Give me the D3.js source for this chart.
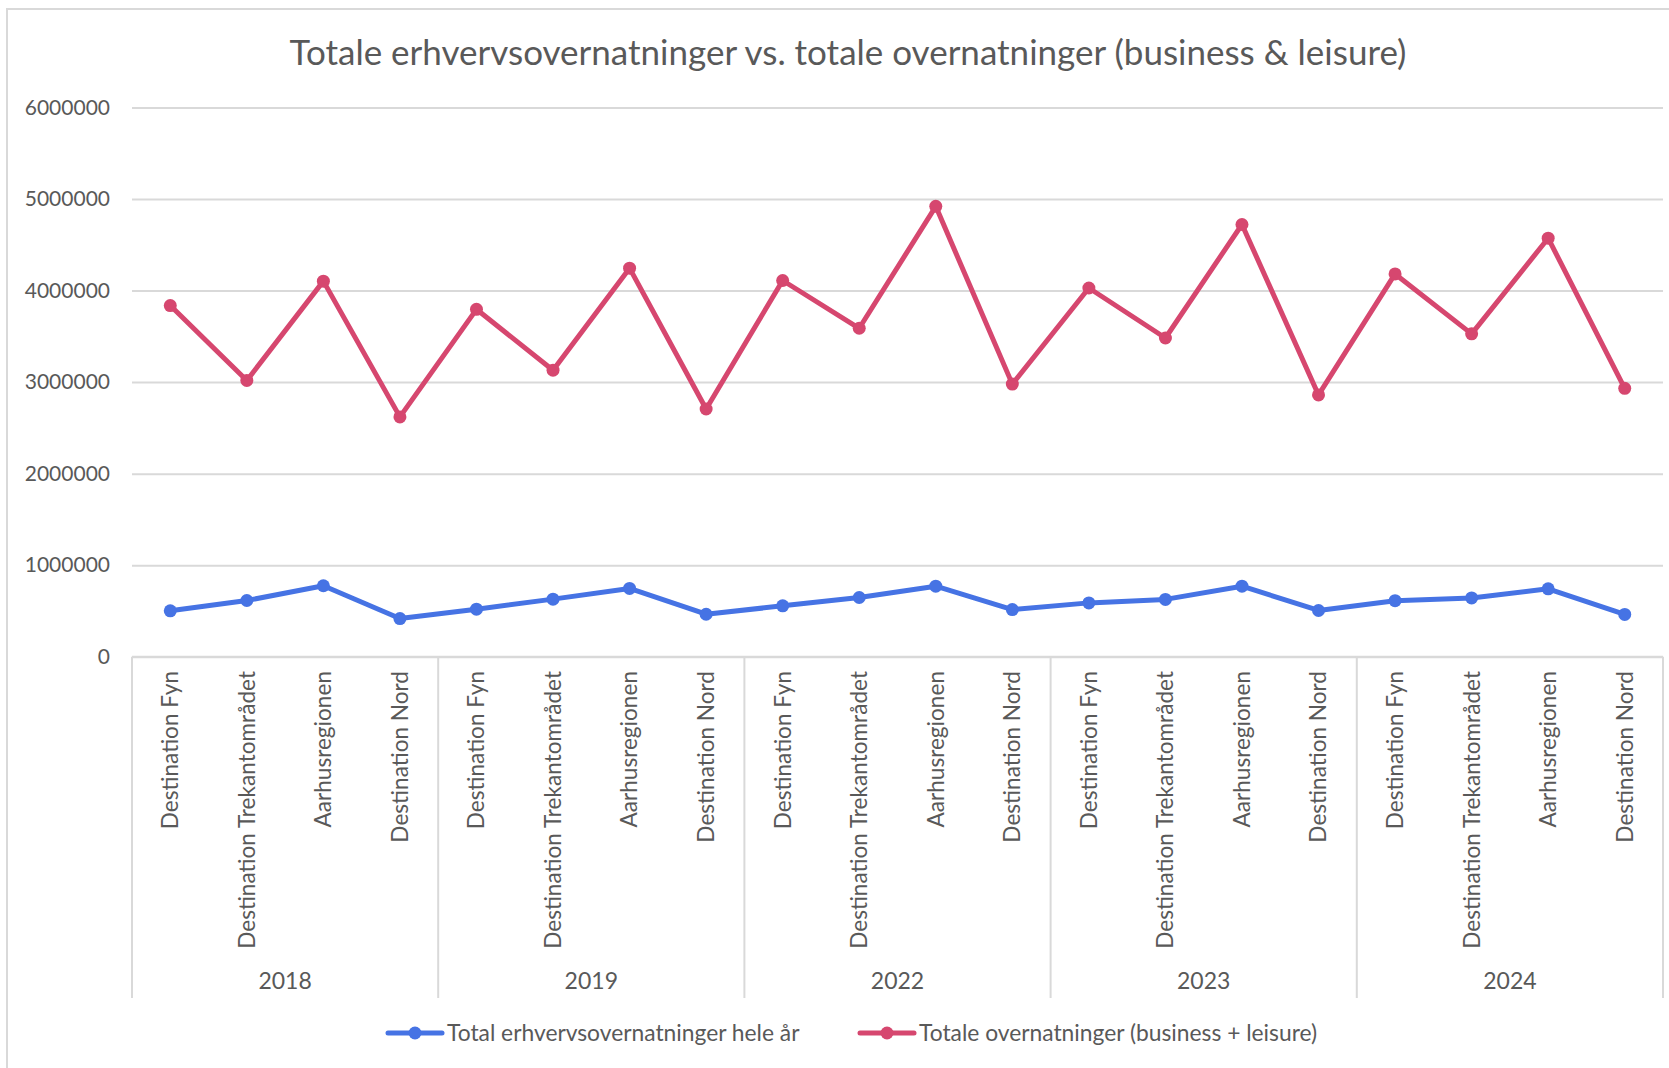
<!DOCTYPE html>
<html>
<head>
<meta charset="utf-8">
<script src="https://cdn.jsdelivr.net/npm/d3@7"></script>
<style>
  body { margin: 0; background: #fff; }
  text { font-family: Lato, "Open Sans", sans-serif; fill: #595959; }
</style>
</head>
<body>
<div id="chart"></div>
<script>
var width = 1669;
var height = 1068;

// data
var years = ["2018", "2019", "2022", "2023", "2024"];
var regions = ["Destination Fyn", "Destination Trekantområdet", "Aarhusregionen", "Destination Nord"];
var businessNights = [501000, 614000, 775000, 417000,
                      519000, 629000, 746000, 464000,
                      556000, 647000, 770000, 515000,
                      588000, 626000, 770000, 505000,
                      612000, 642000, 742000, 462000];
var totalNights = [3836000, 3018000, 4103000, 2620000,
                   3795000, 3130000, 4245000, 2706000,
                   4110000, 3588000, 4920000, 2978000,
                   4028000, 3482000, 4722000, 2860000,
                   4182000, 3527000, 4572000, 2932000];
var yTicks = [0, 1000000, 2000000, 3000000, 4000000, 5000000, 6000000];
var seriesNames = ["Total erhvervsovernatninger hele år", "Totale overnatninger (business + leisure)"];
var seriesColors = ["#4673E4", "#D6476F"];
var title = "Totale erhvervsovernatninger vs. totale overnatninger (business & leisure)";

var keys = [];
years.forEach(function(yr) {
    regions.forEach(function(r) { keys.push(yr + "|" + r); });
});

var plotLeft = 132, plotRight = 1663, plotTop = 107.5, plotBottom = 656.7;

var x = d3.scaleBand().domain(keys).range([plotLeft, plotRight]);
var y = d3.scaleLinear().domain([0, 6000000]).range([plotBottom, plotTop]);

var svg = d3.select("#chart").append("svg")
    .attr("width", width)
    .attr("height", height);

// chart frame (only top/left edge visible)
svg.append("path")
    .attr("d", "M7," + height + "V9H" + width)
    .attr("fill", "none")
    .attr("stroke", "#D9D9D9")
    .attr("stroke-width", 2);

svg.append("text")
    .attr("x", 848)
    .attr("y", 65)
    .attr("text-anchor", "middle")
    .style("font-size", "35px")
    .text(title);

// gridlines + y labels
var yAxis = d3.axisLeft(y).tickValues(yTicks).tickSize(-(plotRight - plotLeft)).tickFormat(d3.format("d"));
var gy = svg.append("g")
    .attr("transform", "translate(" + plotLeft + ",0)")
    .call(yAxis);
gy.select(".domain").remove();
gy.selectAll(".tick line").attr("stroke", "#D9D9D9").attr("stroke-width", 2);
gy.selectAll(".tick text")
    .attr("x", -22)
    .style("font-size", "21px")
    .style("font-family", "Lato, sans-serif")
    .attr("fill", "#595959");

// x axis line and year separators
svg.append("line")
    .attr("x1", plotLeft).attr("x2", plotRight)
    .attr("y1", y(0)).attr("y2", y(0))
    .attr("stroke", "#D9D9D9").attr("stroke-width", 2);

var sepPositions = years.map(function(yr) { return x(yr + "|" + regions[0]); });
sepPositions.push(plotRight);
svg.selectAll(".sep")
    .data(sepPositions)
    .enter().append("line")
    .attr("class", "sep")
    .attr("x1", function(d) { return d; })
    .attr("x2", function(d) { return d; })
    .attr("y1", y(0))
    .attr("y2", 998)
    .attr("stroke", "#D9D9D9")
    .attr("stroke-width", 2);

// category labels
svg.selectAll(".cat")
    .data(keys)
    .enter().append("text")
    .attr("class", "cat")
    .attr("transform", function(d) {
        return "translate(" + (x(d) + x.bandwidth() / 2) + ",671) rotate(-90)";
    })
    .attr("dy", "0.35em")
    .attr("text-anchor", "end")
    .style("font-size", "22.6px")
    .text(function(d) { return d.split("|")[1]; });

// year labels
svg.selectAll(".year")
    .data(years)
    .enter().append("text")
    .attr("class", "year")
    .attr("x", function(yr) {
        return (x(yr + "|" + regions[0]) + x(yr + "|" + regions[3]) + x.bandwidth()) / 2;
    })
    .attr("y", 989)
    .attr("text-anchor", "middle")
    .style("font-size", "23px")
    .text(function(d) { return d; });

// lines
var seriesData = [businessNights, totalNights];
var line = d3.line()
    .x(function(d, i) { return x(keys[i]) + x.bandwidth() / 2; })
    .y(function(d) { return y(d); });

seriesData.forEach(function(vals, s) {
    svg.append("path")
        .attr("d", line(vals))
        .attr("fill", "none")
        .attr("stroke", seriesColors[s])
        .attr("stroke-width", 5)
        .attr("stroke-linejoin", "round");
    svg.selectAll(".dot" + s)
        .data(vals)
        .enter().append("circle")
        .attr("class", "dot" + s)
        .attr("cx", function(d, i) { return x(keys[i]) + x.bandwidth() / 2; })
        .attr("cy", function(d) { return y(d); })
        .attr("r", 6.5)
        .attr("fill", seriesColors[s]);
});

// legend
var legendX = [388, 860];
var legend = svg.selectAll(".legend")
    .data(seriesNames)
    .enter().append("g")
    .attr("class", "legend")
    .attr("transform", function(d, i) { return "translate(" + legendX[i] + ",1033)"; });
legend.append("line")
    .attr("x1", 0).attr("x2", 54)
    .attr("stroke", function(d, i) { return seriesColors[i]; })
    .attr("stroke-width", 5)
    .attr("stroke-linecap", "round");
legend.append("circle")
    .attr("cx", 27).attr("r", 6.5)
    .attr("fill", function(d, i) { return seriesColors[i]; });
legend.append("text")
    .attr("x", 59)
    .attr("dy", "0.35em")
    .style("font-size", "22.8px")
    .text(function(d) { return d; });
</script>
</body>
</html>
